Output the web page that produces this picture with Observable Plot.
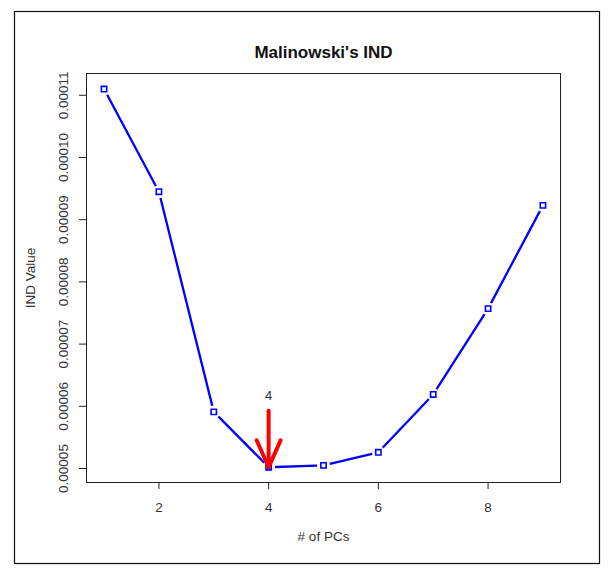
<!DOCTYPE html>
<html>
<head>
<meta charset="utf-8">
<script src="https://cdn.jsdelivr.net/npm/d3@7"></script>
<script src="https://cdn.jsdelivr.net/npm/@observablehq/plot@0.6"></script>
<style>
  html, body { margin: 0; padding: 0; background: #fff; }
  #chart { width: 609px; height: 572px; }
</style>
</head>
<body>
<div id="chart"></div>
<script>
// ---- data ----
const pcs = [1, 2, 3, 4, 5, 6, 7, 8, 9];
const indValues = [0.0001110, 0.0000945, 0.0000591, 0.0000502, 0.0000505, 0.0000526, 0.0000619, 0.0000757, 0.0000923];
const xTicks = [2, 4, 6, 8];
const yTicks = [0.00005, 0.00006, 0.00007, 0.00008, 0.00009, 0.00010, 0.00011];
const titleText = "Malinowski's IND";
const xLabel = "# of PCs";
const yLabel = "IND Value";
// annotation: arrow pointing at the chosen number of PCs
const bestPC = 4;
const arrowFrom = 0.0000593;
const arrowTo = 0.0000502;
const arrowLabelY = 0.0000617;

const data = pcs.map((p, i) => ({pc: p, ind: indValues[i]}));

const headShape = {
  draw(context) {
    context.moveTo(-12, -27);
    context.lineTo(0, 0);
    context.lineTo(12, -27);
  }
};

const textColor = "#333";

const plot = Plot.plot({
  width: 609,
  height: 572,
  marginLeft: 86,
  marginRight: 49,
  marginTop: 73,
  marginBottom: 90,
  style: {fontFamily: "'Liberation Sans', Arial, sans-serif", fontSize: "13px", background: "#fff", color: textColor},
  x: {domain: [0.68, 9.32]},
  y: {domain: [0.00004775, 0.0001135]},
  marks: [
    Plot.frame({stroke: "#222", strokeWidth: 1}),
    Plot.axisX({ticks: xTicks, tickSize: 7, tickPadding: 13, label: null, tickFormat: d => String(d), stroke: "#222", fill: textColor, fontSize: 13.5}),
    Plot.axisY({ticks: yTicks, tickSize: 7, label: null, tickFormat: () => "", stroke: "#222"}),
    Plot.text(yTicks, {y: d => d, frameAnchor: "left", dx: -23, rotate: -90, textAnchor: "middle", text: d => d.toFixed(5), fill: textColor, fontSize: 13.5}),
    Plot.text([titleText], {frameAnchor: "top", dy: -28, text: d => d, fontWeight: "bold", fontSize: 17, fill: "#111"}),
    Plot.text([xLabel], {frameAnchor: "bottom", dy: 58, text: d => d, fill: textColor, fontSize: 13.5}),
    Plot.text([yLabel], {frameAnchor: "left", dx: -56, rotate: -90, textAnchor: "middle", text: d => d, fill: textColor, fontSize: 13.5}),
    Plot.line(data, {x: "pc", y: "ind", stroke: "#0000ff", strokeWidth: 2.3}),
    // white halo so the line stops short of each point (R type = "b")
    Plot.dot(data, {x: "pc", y: "ind", r: 6.5, fill: "#fff", stroke: "none"}),
    Plot.dot(data, {x: "pc", y: "ind", symbol: "square", r: 3, fill: "#fff", stroke: "#0000ff", strokeWidth: 1.6}),
    Plot.link([{x: bestPC, y1: arrowFrom, y2: arrowTo}], {x1: "x", x2: "x", y1: "y1", y2: "y2", stroke: "#ff0000", strokeWidth: 4, strokeLinecap: "round"}),
    Plot.vector([{x: bestPC, y: arrowTo}], {x: "x", y: "y", length: 30, anchor: "start", shape: headShape, stroke: "#ff0000", strokeWidth: 4, strokeLinecap: "round", strokeLinejoin: "round"}),
    Plot.text([{x: bestPC, y: arrowLabelY}], {x: "x", y: "y", text: () => String(bestPC), fill: textColor, fontSize: 13})
  ]
});

const svg = d3.select(plot);
svg.append("rect")
  .attr("x", 14.5).attr("y", 11.5)
  .attr("width", 585).attr("height", 552)
  .attr("fill", "none").attr("stroke", "#111").attr("stroke-width", 1.2);

document.getElementById("chart").appendChild(plot);
</script>
</body>
</html>
